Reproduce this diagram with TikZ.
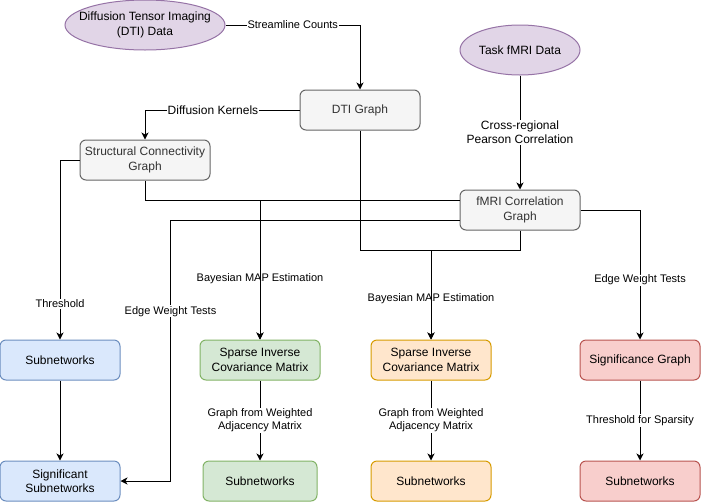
\documentclass[tikz,border=0pt]{standalone}
\usepackage{fontspec}
\setmainfont{Liberation Sans}
\usetikzlibrary{arrows.meta,positioning,shapes.geometric}
\definecolor{brPurple}{RGB}{150,115,166}
\definecolor{brPurpleFill}{RGB}{225,213,231}
\definecolor{brGray}{RGB}{102,102,102}
\definecolor{brGrayFill}{RGB}{245,245,245}
\definecolor{brGrayText}{RGB}{51,51,51}
\definecolor{brBlue}{RGB}{108,142,191}
\definecolor{brBlueFill}{RGB}{218,232,252}
\definecolor{brGreen}{RGB}{130,179,102}
\definecolor{brGreenFill}{RGB}{213,232,212}
\definecolor{brOrange}{RGB}{215,155,0}
\definecolor{brOrangeFill}{RGB}{255,230,204}
\definecolor{brRed}{RGB}{184,84,80}
\definecolor{brRedFill}{RGB}{248,206,204}
\newcommand{\boxfont}{\fontsize{12}{14.4}\selectfont}
\newcommand{\lblfont}{\fontsize{11}{13.2}\selectfont}
\newcommand{\lblbigfont}{\fontsize{12}{14.4}\selectfont}

\begin{document}
\begin{tikzpicture}[x=1pt, y=-1pt,
      datashape/.style={ellipse, draw=brPurple, fill=brPurpleFill, line width=1pt,
        inner xsep=-10pt, inner ysep=0pt, align=center, font=\boxfont,
        minimum height=50pt},
      graphbox/.style={rectangle, rounded corners=6pt, draw=brGray, fill=brGrayFill,
        line width=1pt, minimum width=120pt, minimum height=40pt,
        align=center, inner sep=2pt, font=\boxfont, text=brGrayText},
      bluebox/.style={graphbox, draw=brBlue, fill=brBlueFill, text=black},
      greenbox/.style={graphbox, draw=brGreen, fill=brGreenFill, text=black},
      orangebox/.style={graphbox, draw=brOrange, fill=brOrangeFill, text=black},
      redbox/.style={graphbox, draw=brRed, fill=brRedFill, text=black},
      arr/.style={-{Stealth[length=7pt, width=7pt, inset=2pt]}, line width=1pt},
      elbl/.style={font=\lblfont, fill=white, inner sep=1pt, align=center},
    ]
    \useasboundingbox (0,0) rectangle (701,501);

    % ---- Sources and graphs ----
    \node[datashape, minimum width=160pt] (dtidata) at (145,25)
      {Diffusion Tensor Imaging\\(DTI) Data};
    \node[datashape, minimum width=120pt] (fmridata) at (520,50) {Task fMRI Data};
    \node[graphbox] (dtigraph) at (360,110) {DTI Graph};
    \node[graphbox, minimum width=130pt] (scgraph) at (145,160)
      {Structural Connectivity\\Graph};
    \node[graphbox] (fmrigraph) at (520,210) {fMRI Correlation\\Graph};

    % ---- Result columns ----
    \node[bluebox] (sub1) at (60,360) {Subnetworks};
    \node[bluebox, below=80pt of sub1] (sigsub) {Significant\\Subnetworks};
    \node[greenbox] (sic1) at (260,360) {Sparse Inverse\\Covariance Matrix};
    \node[greenbox, minimum width=114pt, below=80pt of sic1] (sub2) {Subnetworks};
    \node[orangebox] (sic2) at (431,360) {Sparse Inverse\\Covariance Matrix};
    \node[orangebox, below=80pt of sic2] (sub3) {Subnetworks};
    \node[redbox] (sigg) at (640,360) {Significance Graph};
    \node[redbox, below=80pt of sigg] (sub4) {Subnetworks};

    % ---- Structural side ----
    \draw[arr] (dtidata.east) -| node[elbl, pos=0.25] {Streamline Counts} (dtigraph.north);
    \draw[arr] (dtigraph.west) -|
      node[elbl, font=\lblbigfont, pos=0.28] {Diffusion Kernels} (scgraph.north);
    \draw[arr] (scgraph.west) -| node[elbl, pos=0.9] {Threshold} (sub1.north);
    \draw[arr] (scgraph.south) -- ++(0,20) -|
      node[elbl, pos=0.78] {Bayesian MAP Estimation} (sic1.north);
    \draw[arr] (dtigraph.south) -- ++(0,120) -|
      node[elbl, pos=0.77] {Bayesian MAP Estimation} (sic2.north);

    % ---- Functional side ----
    \draw[arr] (fmridata) --
      node[elbl, font=\lblbigfont] {Cross-regional\\Pearson Correlation} (fmrigraph);
    \draw[arr] ([yshift=10pt]fmrigraph.west) -| (sic1.north);
    \draw[arr] ([yshift=-10pt]fmrigraph.west) -|
      node[elbl, pos=0.675] {Edge Weight Tests} ([xshift=50pt]sigsub.east) -- (sigsub.east);
    \draw[arr] (fmrigraph.south) -- ++(0,20) -| (sic2.north);
    \draw[arr] (fmrigraph.east) -| node[elbl, pos=0.77] {Edge Weight Tests} (sigg.north);

    % ---- Down to subnetworks ----
    \draw[arr] (sub1) -- (sigsub);
    \draw[arr] (sic1) -- node[elbl] {Graph from Weighted\\Adjacency Matrix} (sub2);
    \draw[arr] (sic2) -- node[elbl] {Graph from Weighted\\Adjacency Matrix} (sub3);
    \draw[arr] (sigg) -- node[elbl] {Threshold for Sparsity} (sub4);
  \end{tikzpicture}
\end{document}
